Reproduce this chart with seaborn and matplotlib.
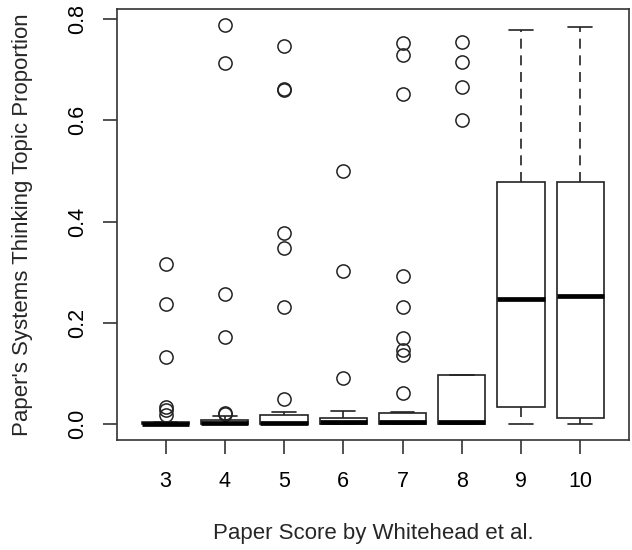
import pandas as pd
import matplotlib
matplotlib.use("Agg")
import matplotlib.pyplot as plt
import seaborn as sns

# topic proportion per paper, grouped by paper score
scores = ["3", "4", "5", "6", "7", "8", "9", "10"]

score_3 = [0.0] * 9 + [0.001, 0.001, 0.001, 0.001,
                       0.002, 0.002, 0.003, 0.003, 0.004, 0.004,
                       0.018, 0.028, 0.034, 0.132, 0.237, 0.316]
score_4 = [0.0] * 11 + [0.001, 0.001, 0.002, 0.002,
                        0.003, 0.003, 0.004, 0.004, 0.005, 0.006, 0.007,
                        0.016,
                        0.019, 0.022, 0.172, 0.257, 0.714, 0.789]
score_5 = [0.0] * 12 + [0.001, 0.001, 0.001, 0.002, 0.002,
                        0.003, 0.004, 0.005, 0.007, 0.009, 0.012, 0.015, 0.018,
                        0.024,
                        0.050, 0.232, 0.347, 0.378, 0.660, 0.662, 0.748]
score_6 = [0.0] * 6 + [0.001, 0.002, 0.003,
                       0.005, 0.007, 0.009, 0.012,
                       0.026,
                       0.091, 0.303, 0.500]
score_7 = [0.0] * 15 + [0.001, 0.001, 0.002, 0.002, 0.003, 0.003,
                        0.004, 0.005, 0.006, 0.008, 0.010, 0.012, 0.014, 0.017, 0.020, 0.022,
                        0.024,
                        0.061, 0.136, 0.146, 0.170, 0.231, 0.293, 0.652, 0.730, 0.753]
score_8 = [0.0] * 5 + [0.001, 0.002, 0.002, 0.003,
                       0.010, 0.040, 0.080, 0.097,
                       0.600, 0.666, 0.716, 0.754]
score_9 = [0.0, 0.033, 0.247, 0.479, 0.779]
score_10 = [0.0, 0.012, 0.253, 0.479, 0.785]

groups = [score_3, score_4, score_5, score_6, score_7, score_8, score_9, score_10]
rows = []
for s, vals in zip(scores, groups):
    for v in vals:
        rows.append({"score": s, "prop": v})
df = pd.DataFrame(rows)

sns.set_style("white")
plt.rcParams["font.family"] = ["Liberation Sans", "DejaVu Sans"]

line_col = "#222222"
fig, ax = plt.subplots(figsize=(6.32, 5.5), dpi=100)
fig.subplots_adjust(left=0.185, right=0.995, top=0.984, bottom=0.2)

sns.boxplot(data=df, x="score", y="prop", order=scores, ax=ax,
            color="white", linecolor=line_col, linewidth=1.2, width=0.8,
            whis=1.5, fliersize=9.5,
            medianprops=dict(linewidth=3.4, color="black"),
            whiskerprops=dict(linestyle=(0, (6, 4))),
            capprops=dict(linestyle="-"),
            flierprops=dict(marker="o", markerfacecolor="none",
                            markeredgecolor=line_col, markeredgewidth=1.1))

ax.set_xlim(-0.82, 7.82)
ax.set_ylim(-0.0316, 0.8206)
ax.set_yticks([0.0, 0.2, 0.4, 0.6, 0.8])
ax.set_yticklabels(["0.0", "0.2", "0.4", "0.6", "0.8"], rotation=90, va="center")

ax.tick_params(bottom=True, left=True, direction="out", length=10, width=1.1,
               color=line_col, labelsize=15.5, labelcolor="black")
ax.tick_params(axis="x", pad=12)
ax.tick_params(axis="y", pad=11)

for sp in ax.spines.values():
    sp.set_visible(True)
    sp.set_color("#333333")
    sp.set_linewidth(1.2)

ax.set_xlabel("Paper Score by Whitehead et al.", fontsize=16, labelpad=23)
ax.set_ylabel("Paper's Systems Thinking Topic Proportion", fontsize=16, labelpad=24)

plt.savefig("out.png", dpi=100)
